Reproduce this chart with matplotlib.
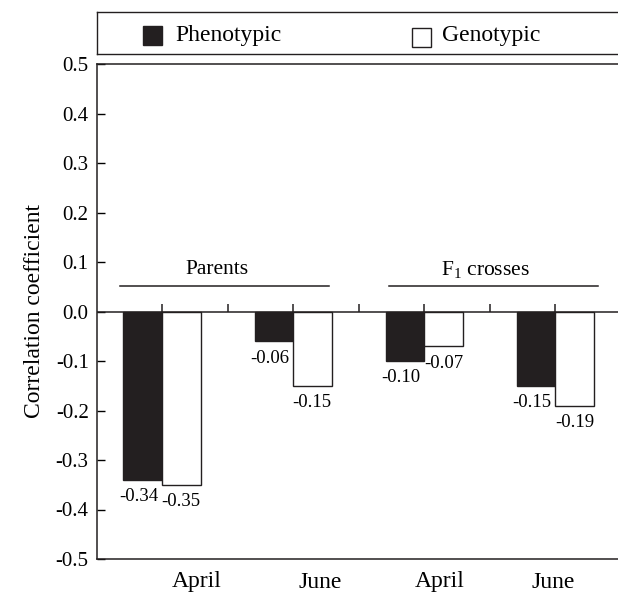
import numpy as np
import matplotlib
matplotlib.use("Agg")
import matplotlib.pyplot as plt
from matplotlib.patches import Rectangle

plt.rcParams['font.family'] = ['Liberation Serif', 'DejaVu Serif']
plt.rcParams['mathtext.fontset'] = 'custom'
plt.rcParams['mathtext.rm'] = 'Liberation Serif'
plt.rcParams['mathtext.it'] = 'Liberation Serif:italic'
plt.rcParams['axes.unicode_minus'] = False

# datos
months = ['April', 'June', 'April', 'June']
phenotypic = [-0.34, -0.06, -0.10, -0.15]
genotypic = [-0.35, -0.15, -0.07, -0.19]
groups = ['Parents', 'F$_1$ crosses']
series = ['Phenotypic', 'Genotypic']

dark = '#231f20'
fig = plt.figure(figsize=(6.18, 5.92), dpi=100)
ax = fig.add_axes([97/618, 33/592, 1 - 97/618, 495/592])

x = np.arange(len(months))
w = 0.294
b1 = ax.bar(x - w/2, phenotypic, w, color=dark, edgecolor=dark, linewidth=1)
b2 = ax.bar(x + w/2, genotypic, w, color='white', edgecolor=dark, linewidth=1)

# etiquetas de valores debajo de las barras
for xi, v in zip(x - w/2, phenotypic):
    ax.annotate('%.2f' % v, (xi, v), xytext=(-4, -17), textcoords='offset pixels',
                ha='center', va='center', fontsize=13.5)
for xi, v in zip(x + w/2, genotypic):
    ax.annotate('%.2f' % v, (xi, v), xytext=(0, -17), textcoords='offset pixels',
                ha='center', va='center', fontsize=13.5)

# linea del cero con marcas hacia arriba
ax.axhline(0, color=dark, linewidth=1.1)
ticks0 = np.arange(0, len(months) - 0.5 + 0.01, 0.5)
ax.vlines(ticks0, 0, 0.016, color=dark, linewidth=1.1)

# grupos
spans = [(-0.32, 1.275), (1.733, 3.328)]
for g, (x0, x1) in zip(groups, spans):
    ax.plot([x0, x1], [0.052, 0.052], color=dark, linewidth=1.1)
    cx = (x0 + x1) / 2 - 0.06
    ax.text(cx, 0.085, g, ha='center', va='center', fontsize=15.5)

ax.set_xlim(-0.496, 3.48)
ax.set_ylim(-0.5, 0.5)
yt = np.arange(-0.5, 0.51, 0.1)
ax.set_yticks(yt)
ax.set_yticklabels(['%.1f' % t if abs(t) > 1e-9 else '0.0' for t in yt])
ax.tick_params(axis='y', direction='in', length=6, width=1, labelsize=15, pad=6)

label_pos = [0.267, 1.206, 2.122, 2.985]
ax.set_xticks(label_pos)
ax.set_xticklabels(months)
ax.tick_params(axis='x', length=0, labelsize=17, pad=9)

ax.set_ylabel('Correlation coefficient', fontsize=17, labelpad=8)
ax.spines['right'].set_visible(False)
for s in ['left', 'top', 'bottom']:
    ax.spines[s].set_linewidth(1.1)
    ax.spines[s].set_color(dark)

# caja de la leyenda
lax = fig.add_axes([97/618, (592 - 54)/592, 0.9, 42/592])
lax.set_xlim(0, 0.9*618)
lax.set_ylim(0, 42)
lax.set_xticks([])
lax.set_yticks([])
lax.spines['right'].set_visible(False)
for s in ['left', 'top', 'bottom']:
    lax.spines[s].set_linewidth(1.0)
    lax.spines[s].set_color(dark)
lax.add_patch(Rectangle((46, 9), 19, 19, facecolor=dark, edgecolor=dark, linewidth=1))
lax.text(78, 18.5, series[0], ha='left', va='center', fontsize=17)
lax.add_patch(Rectangle((315, 7.5), 18.5, 18.5, facecolor='white', edgecolor=dark, linewidth=1))
lax.text(345, 18.5, series[1], ha='left', va='center', fontsize=17)

fig.savefig('out.png', dpi=100)
